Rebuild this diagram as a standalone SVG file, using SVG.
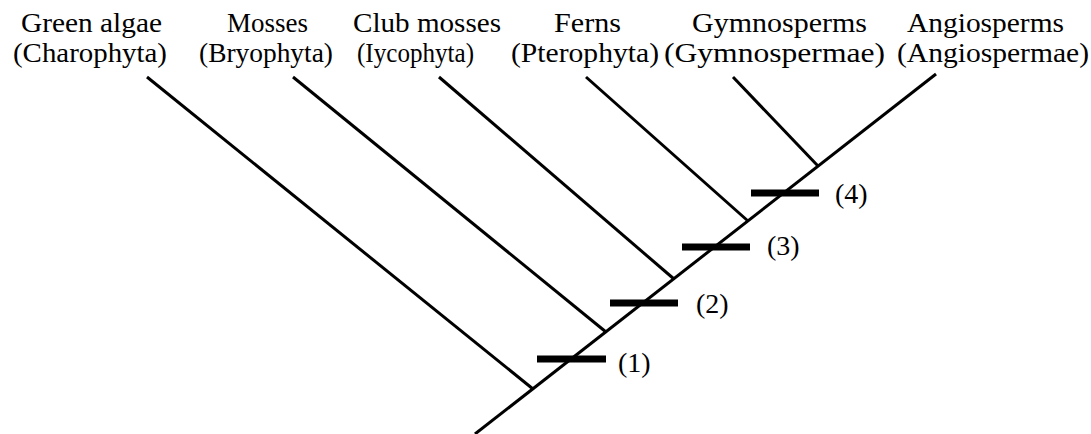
<svg xmlns="http://www.w3.org/2000/svg" width="1091" height="434" viewBox="0 0 1091 434">
<style>
text{font-family:'Liberation Serif','DejaVu Serif','Times New Roman',serif;font-size:28px;fill:#000}
.lbl{text-anchor:middle}
.ln{stroke:#000;stroke-width:3;fill:none;stroke-linecap:butt}
.bar{stroke:#000;stroke-width:7;fill:none}
</style>
<rect width="1091" height="434" fill="#fff"/>
<g id="connectors">
<line class="ln" x1="475" y1="434" x2="936" y2="74"/>
<line class="ln" x1="147" y1="77" x2="533" y2="389"/>
<line class="ln" x1="293" y1="77" x2="606" y2="332"/>
<line class="ln" x1="439" y1="77" x2="674" y2="279"/>
<line class="ln" x1="586" y1="77" x2="748" y2="221"/>
<line class="ln" x1="733" y1="77" x2="818" y2="166"/>
</g>
<g id="green-algae" font-family="Liberation Serif, DejaVu Serif, serif">
<text class="lbl" x="91.5" y="32" textLength="141" lengthAdjust="spacingAndGlyphs">Green algae</text>
<text class="lbl" x="90" y="62" textLength="154" lengthAdjust="spacingAndGlyphs">(Charophyta)</text>
</g>
<g id="mosses" font-family="Liberation Serif, DejaVu Serif, serif">
<text class="lbl" x="267.5" y="32" textLength="81" lengthAdjust="spacingAndGlyphs">Mosses</text>
<text class="lbl" x="266" y="62" textLength="134" lengthAdjust="spacingAndGlyphs">(Bryophyta)</text>
</g>
<g id="club-mosses" font-family="Liberation Serif, DejaVu Serif, serif">
<text class="lbl" x="427" y="32" textLength="148" lengthAdjust="spacingAndGlyphs">Club mosses</text>
<text class="lbl" x="415.5" y="62" textLength="117" lengthAdjust="spacingAndGlyphs">(Iycophyta)</text>
</g>
<g id="ferns" font-family="Liberation Serif, DejaVu Serif, serif">
<text class="lbl" x="587.5" y="32" textLength="67" lengthAdjust="spacingAndGlyphs">Ferns</text>
<text class="lbl" x="585" y="62" textLength="148" lengthAdjust="spacingAndGlyphs">(Pterophyta)</text>
</g>
<g id="gymnosperms" font-family="Liberation Serif, DejaVu Serif, serif">
<text class="lbl" x="779.5" y="32" textLength="175" lengthAdjust="spacingAndGlyphs">Gymnosperms</text>
<text class="lbl" x="774.5" y="62" textLength="221" lengthAdjust="spacingAndGlyphs">(Gymnospermae)</text>
</g>
<g id="angiosperms" font-family="Liberation Serif, DejaVu Serif, serif">
<text class="lbl" x="985.5" y="32" textLength="157" lengthAdjust="spacingAndGlyphs">Angiosperms</text>
<text class="lbl" x="993" y="62" textLength="192" lengthAdjust="spacingAndGlyphs">(Angiospermae)</text>
</g>
<g id="trait-1">
<line class="bar" x1="537" y1="359" x2="606" y2="359"/>
<text x="618" y="372">(1)</text>
</g>
<g id="trait-2">
<line class="bar" x1="610" y1="303" x2="678" y2="303"/>
<text x="696" y="313">(2)</text>
</g>
<g id="trait-3">
<line class="bar" x1="682" y1="247" x2="750" y2="247"/>
<text x="767" y="255">(3)</text>
</g>
<g id="trait-4">
<line class="bar" x1="751" y1="193" x2="819" y2="193"/>
<text x="835" y="203">(4)</text>
</g>
</svg>
